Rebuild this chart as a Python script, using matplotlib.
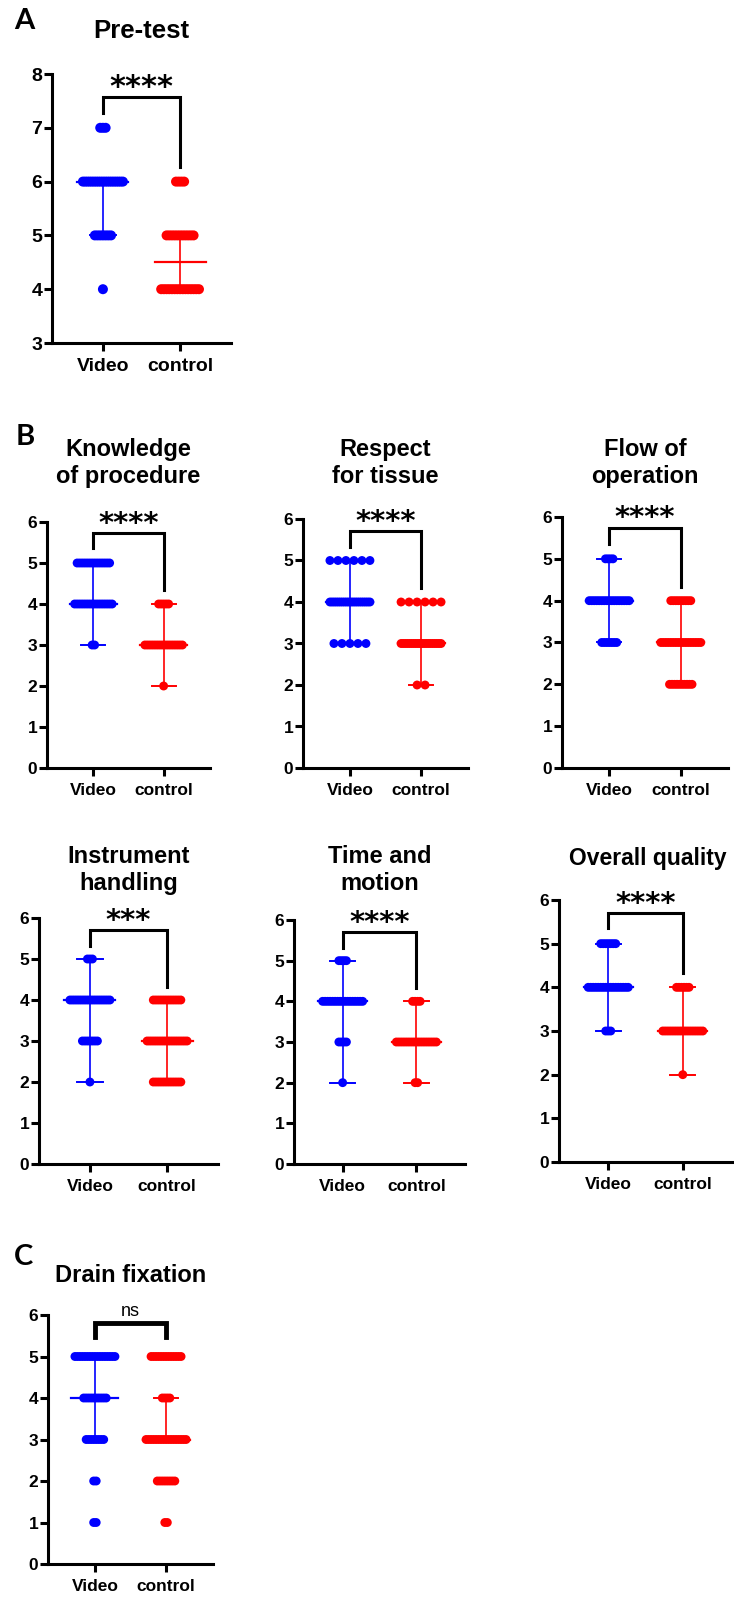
import numpy as np
import matplotlib
matplotlib.use('Agg')
import matplotlib.pyplot as plt

# Chart values
groups = ['Video', 'control']
titles = ['Pre-test', 'Knowledge\nof procedure', 'Respect\nfor tissue', 'Flow of\noperation',
          'Instrument\nhandling', 'Time and\nmotion', 'Overall quality', 'Drain fixation']
sig_labels = ['****', '****', '****', '****', '***', '****', '****', 'ns']

pre_levels = [4, 5, 6, 7]
score_levels = [1, 2, 3, 4, 5]

# number of dots at each level (Video, control)
pretest_video = [1, 7, 19, 3]
pretest_control = [15, 11, 4, 0]
knowledge_video = [0, 0, 2, 16, 14]
knowledge_control = [0, 1, 16, 5, 0]
respect_video = [0, 0, 5, 20, 6]
respect_control = [0, 2, 20, 6, 0]
flow_video = [0, 0, 7, 17, 4]
flow_control = [0, 10, 17, 9, 0]
instrument_video = [0, 1, 7, 18, 3]
instrument_control = [0, 12, 18, 12, 0]
time_video = [0, 1, 4, 17, 4]
time_control = [0, 2, 17, 4, 0]
overall_video = [0, 0, 3, 17, 7]
overall_control = [0, 1, 17, 6, 0]
drain_video = [2, 2, 8, 10, 17]
drain_control = [2, 8, 17, 4, 13]

# center line and error bar ends (center, low, high) for Video / control
pretest_bars = [(6, 5, 6), (4.5, 4, 5)]
knowledge_bars = [(4, 3, 5), (3, 2, 4)]
respect_bars = [(4, 3, 5), (3, 2, 4)]
flow_bars = [(4, 3, 5), (3, 2, 4)]
instrument_bars = [(4, 2, 5), (3, 2, 4)]
time_bars = [(4, 2, 5), (3, 2, 4)]
overall_bars = [(4, 3, 5), (3, 2, 4)]
drain_bars = [(4, 3, 5), (3, 3, 4)]

W, H = 734, 1601
fig = plt.figure(figsize=(W / 100, H / 100), dpi=100)
plt.rcParams['font.family'] = ['Liberation Sans', 'DejaVu Sans']

colors = ['#0000ff', '#ff0000']


def px_axes(left, right, top, bottom):
    return fig.add_axes([left / W, 1 - bottom / H, (right - left) / W, (bottom - top) / H])


def draw_panel(box, levels, video, control, bars, ylim, title, title_y, sig, bracket,
               step_px=2.5, dot=6.4, fs=12.5, title_fs=17, star_fs=21, bracket_lw=2.2,
               title_dx=0):
    left, right, top, bottom = box
    ax = px_axes(left, right, top, bottom)
    xmin, xmax = -0.66, 1.66
    ppu = (right - left) / (xmax - xmin)
    for g, counts in enumerate([video, control]):
        for lev, n in zip(levels, counts):
            if n == 0:
                continue
            step = min(step_px, 40 / (n - 1)) if n > 1 else 0
            offs = (np.arange(n) - (n - 1) / 2) * step / ppu
            ax.scatter(g + offs, np.full(n, lev), s=dot ** 2, color=colors[g],
                       edgecolors='none', zorder=3, clip_on=False)
        c, lo, hi = bars[g]
        ax.plot([g, g], [lo, hi], color=colors[g], lw=1.2, zorder=2)
        ax.plot([g - 0.33, g + 0.33], [c, c], color=colors[g], lw=1.6, zorder=2)
        for v in (lo, hi):
            ax.plot([g - 0.17, g + 0.17], [v, v], color=colors[g], lw=1.4, zorder=2)

    # significance bracket
    yb, yl, yr = bracket
    ax.plot([0, 0, 1, 1], [yl, yb, yb, yr], color='black', lw=bracket_lw,
            clip_on=False, solid_joinstyle='miter', zorder=4)
    if sig == 'ns':
        ax.annotate(sig, xy=(0.5, yb), xytext=(0, 5), textcoords='offset points',
                    ha='center', va='baseline', fontsize=13, annotation_clip=False)
    else:
        ax.annotate(sig, xy=(0.5, yb), xytext=(0, 1), textcoords='offset points',
                    ha='center', va='baseline', fontsize=star_fs, fontweight='bold',
                    family='DejaVu Sans', annotation_clip=False)

    ax.set_xlim(xmin, xmax)
    ax.set_ylim(*ylim)
    ax.set_yticks(range(ylim[0], ylim[1] + 1))
    ax.set_xticks([0, 1])
    ax.set_xticklabels(groups)
    for s in ['top', 'right']:
        ax.spines[s].set_visible(False)
    for s in ['left', 'bottom']:
        ax.spines[s].set_linewidth(2.2)
    ax.tick_params(axis='both', direction='out', length=6, width=2.2, labelsize=fs)
    ax.tick_params(axis='y', pad=1)
    ax.tick_params(axis='x', pad=5)
    for lab in ax.get_xticklabels() + ax.get_yticklabels():
        lab.set_fontweight('bold')

    fig.text(((left + right) / 2 + title_dx) / W, 1 - title_y / H, title, ha='center',
             va='center', fontsize=title_fs, fontweight='bold', linespacing=1.2)
    return ax


# A
draw_panel((52, 231, 74, 343), pre_levels, pretest_video, pretest_control, pretest_bars,
           (3, 8), titles[0], 31, sig_labels[0], (7.57, 7.28, 6.27),
           step_px=2.7, dot=7.2, fs=14, title_fs=18.5, star_fs=22)

# B
draw_panel((47, 210, 522, 768), score_levels, knowledge_video, knowledge_control,
           knowledge_bars, (0, 6), titles[1], 463, sig_labels[1], (5.73, 5.37, 4.34))
draw_panel((303, 468, 519, 768), score_levels, respect_video, respect_control,
           respect_bars, (0, 6), titles[2], 463, sig_labels[2], (5.71, 5.33, 4.34),
           step_px=8)
draw_panel((562, 728, 517, 768), score_levels, flow_video, flow_control,
           flow_bars, (0, 6), titles[3], 463, sig_labels[3], (5.74, 5.35, 4.33))
draw_panel((39, 218, 918, 1164), score_levels, instrument_video, instrument_control,
           instrument_bars, (0, 6), titles[4], 870, sig_labels[4], (5.71, 5.32, 4.32))
draw_panel((294, 465, 920, 1164), score_levels, time_video, time_control,
           time_bars, (0, 6), titles[5], 870, sig_labels[5], (5.70, 5.31, 4.33))
draw_panel((559, 732, 900, 1162), score_levels, overall_video, overall_control,
           overall_bars, (0, 6), titles[6], 858, sig_labels[6], (5.70, 5.36, 4.33),
           title_fs=16.5, title_dx=2)

# C
draw_panel((48, 213, 1315, 1564), score_levels, drain_video, drain_control,
           drain_bars, (0, 6), titles[7], 1275, sig_labels[7], (5.80, 5.47, 5.47),
           bracket_lw=3.5)

for letter, (x, y) in zip(['A', 'B', 'C'], [(24, 21), (25, 437), (24, 1257)]):
    fig.text(x / W, 1 - y / H, letter, ha='center', va='center', fontsize=21,
             fontweight='bold', family=['Lato', 'DejaVu Sans'])

fig.savefig('out.png', dpi=100)
